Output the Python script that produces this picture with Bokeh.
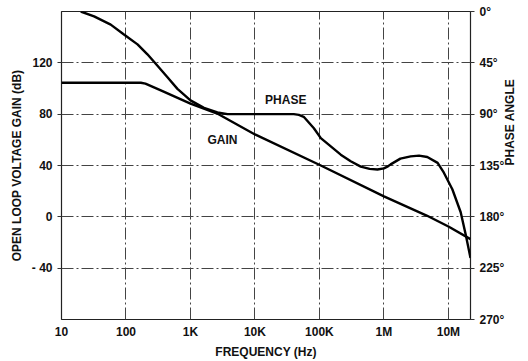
import math
from bokeh.plotting import figure
from bokeh.models import Range1d, LinearAxis, FixedTicker, Label
from bokeh.embed import file_html
from bokeh.resources import INLINE

# ---- data ----
freq_ticks = [10, 100, 1000, 10000, 100000, 1000000, 10000000]
freq_labels = ["10", "100", "1K", "10K", "100K", "1M", "10M"]
gain_ticks = [-40, 0, 40, 80, 120]
gain_labels = ["- 40", "0", "40", "80", "120"]
phase_ticks = [0, 45, 90, 135, 180, 225, 270]
phase_labels = ["0°", "45°", "90°", "135°", "180°", "225°", "270°"]

gain_freq = [10, 170, 200, 347, 1000, 2600, 10000, 105000, 1e6, 4.6e6, 1e7, 2.2e7]
gain_db = [104.5, 104.5, 103.8, 98.5, 88.2, 80.5, 64.2, 40, 16, 1, -7.5, -17.4]

phase_freq = [19.9, 32, 58, 93, 151, 215, 308, 440, 628, 1000, 1620, 2620, 3760,
              40000, 48000, 57000, 82000, 105000, 214000, 305000, 437000, 600000, 794000,
              1.0e6, 1.13e6, 1.27e6, 1.8e6, 2.6e6, 3.5e6, 4.7e6, 6.8e6, 8.5e6, 1.15e7,
              1.55e7, 1.86e7, 2.2e7]
phase_deg = [0, 4.3, 11.5, 20.2, 28.8, 37.5, 47.6, 57.7, 67.8, 77.9, 84.5, 88.5, 90,
             90, 90.6, 92.3, 102.4, 111, 125.5, 131.3, 136, 138, 138.5,
             137.5, 136, 134, 129, 127, 126.3, 127.5, 132.7, 141.3, 155.8,
             176, 196, 216]

FONT = "Liberation Sans"
INK = "#111111"

p = figure(width=528, height=361, x_axis_type="log",
           x_range=Range1d(10, 2.2e7), y_range=Range1d(-80, 160),
           output_backend="svg", toolbar_location=None,
           min_border_left=61, min_border_right=58, min_border_top=11, min_border_bottom=39)
p.extra_y_ranges = {"phase": Range1d(start=270, end=0)}

p.background_fill_color = "white"
p.border_fill_color = "white"
p.outline_line_color = "#222222"
p.outline_line_width = 1.2

# grid
for g in (p.xgrid, p.ygrid):
    g.grid_line_color = "#444444"
    g.grid_line_dash = "12 3 2 3"
    g.grid_line_width = 1
p.xgrid.ticker = FixedTicker(ticks=freq_ticks)
p.ygrid.ticker = FixedTicker(ticks=gain_ticks)

# x axis
xa = p.xaxis[0]
xa.ticker = FixedTicker(ticks=freq_ticks, minor_ticks=[])
xa.major_label_overrides = dict(zip(freq_ticks, freq_labels))
xa.axis_label = "FREQUENCY (Hz)"

# left axis
ya = p.yaxis[0]
ya.ticker = FixedTicker(ticks=gain_ticks, minor_ticks=[])
ya.major_label_overrides = dict(zip(gain_ticks, gain_labels))
ya.axis_label = "OPEN LOOP VOLTAGE GAIN (dB)"

# right axis
ra = LinearAxis(y_range_name="phase", ticker=FixedTicker(ticks=phase_ticks, minor_ticks=[]),
                major_label_overrides=dict(zip(phase_ticks, phase_labels)),
                axis_label="PHASE ANGLE")
p.add_layout(ra, "right")
if "axis_label_orientation" in ra.properties():
    ra.axis_label_orientation = math.pi / 2

for ax in (xa, ya, ra):
    ax.axis_line_color = None
    ax.major_tick_line_color = "#333333"
    ax.minor_tick_line_color = None
    ax.major_tick_in = 0
    ax.major_tick_out = 4
    ax.major_label_text_font = FONT
    ax.major_label_text_font_size = "12px"
    ax.major_label_text_font_style = "bold"
    ax.major_label_text_color = INK
    ax.axis_label_text_font = FONT
    ax.axis_label_text_font_size = "12px"
    ax.axis_label_text_font_style = "bold"
    ax.axis_label_text_color = INK
    ax.major_label_standoff = 5
xa.major_tick_out = 0
xa.major_label_standoff = 5
xa.axis_label_standoff = 3
ya.axis_label_standoff = 5
ra.axis_label_standoff = 3

# curves
p.line(gain_freq, gain_db, line_color="black", line_width=2.4)
p.line(phase_freq, phase_deg, y_range_name="phase", line_color="black", line_width=2.4)

# curve labels
lab = dict(text_align="center", text_baseline="middle", text_font=FONT,
           text_font_size="12px", text_font_style="bold", text_color=INK)
p.add_layout(Label(x=30000, y=90.8, text="PHASE", **lab))
p.add_layout(Label(x=3130, y=60, text="GAIN", **lab))

open("out.html", "w").write(file_html(p, INLINE))
